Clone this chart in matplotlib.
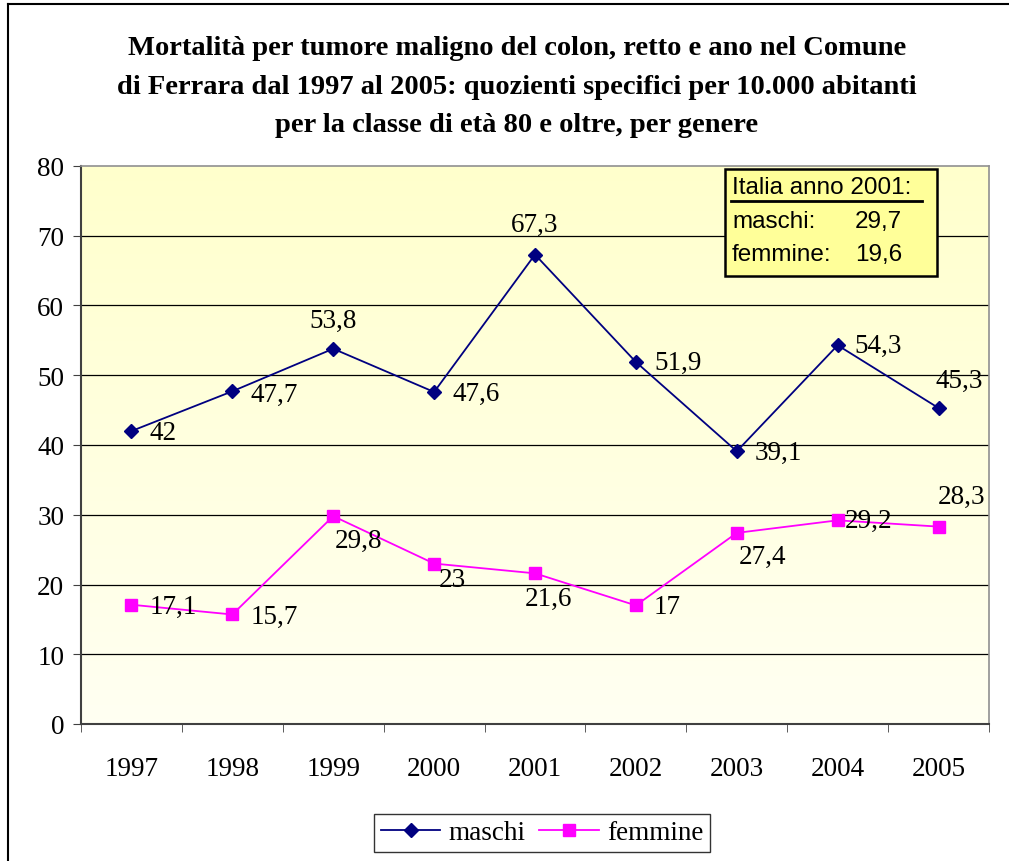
import numpy as np
import matplotlib
matplotlib.use("Agg")
import matplotlib.pyplot as plt
from matplotlib.patches import Rectangle
from matplotlib.lines import Line2D

W, H = 1009, 862

years = ["1997", "1998", "1999", "2000", "2001", "2002", "2003", "2004", "2005"]
maschi = [42, 47.7, 53.8, 47.6, 67.3, 51.9, 39.1, 54.3, 45.3]
femmine = [17.1, 15.7, 29.8, 23, 21.6, 17, 27.4, 29.2, 28.3]

title = ("Mortalità per tumore maligno del colon, retto e ano nel Comune\n"
         "di Ferrara dal 1997 al 2005: quozienti specifici per 10.000 abitanti\n"
         "per la classe di età 80 e oltre, per genere")
italia_title = "Italia anno 2001:"
italia_rows = [("maschi:", "29,7"), ("femmine:", "19,6")]

# label offsets in pixels (dx, dy, ha)
off_m = [(18, -1, "left"), (18, -3, "left"), (0, 28, "center"), (18, -1, "left"),
         (0, 30, "center"), (18, 0, "left"), (18, -1, "left"), (17, 0, "left"),
         (-3, 28, "left")]
off_f = [(18, -2, "left"), (18, -2, "left"), (25, -24, "center"), (18, -16, "center"),
         (13, -25, "center"), (18, -1, "left"), (26, -24, "center"), (7, 0, "left"),
         (-1, 30, "left")]

SERIF = ["Liberation Serif", "DejaVu Serif"]
SANS = ["Liberation Sans", "DejaVu Sans"]
NAVY = "#000080"
MAG = "#FF00FF"
FS = 19.5


def fx(px):
    return px / W


def fy(py):
    return 1 - py / H


def fmt(v):
    return f"{v:g}".replace(".", ",")


fig = plt.figure(figsize=(W / 100, H / 100), dpi=100)
fig.patch.set_facecolor("white")

# outer chart border (left and top visible)
fig.add_artist(Line2D([fx(8), fx(8)], [fy(5), 0], color="black", lw=1.5))
fig.add_artist(Line2D([fx(8), 1], [fy(5), fy(5)], color="black", lw=1.5))

fig.text(fx(517), fy(87), title, ha="center", va="center", fontsize=20.5,
         fontweight="bold", family=SERIF, linespacing=1.72)

ax = fig.add_axes([fx(81), fy(725), fx(989) - fx(81), fy(167) - fy(725)])
x = np.arange(len(years))
ax.set_xlim(-0.5, len(years) - 0.5)
ax.set_ylim(0, 80)

# yellow gradient background
grad = np.linspace(0, 1, 256).reshape(-1, 1)
top = np.array([1.0, 1.0, 0.80])
bot = np.array([1.0, 1.0, 0.95])
img = top + (bot - top) * grad[..., None]
ax.imshow(img, extent=[0, 1, 0, 1], transform=ax.transAxes, aspect="auto", zorder=0)

for yv in range(10, 80, 10):
    ax.axhline(yv, color="black", lw=0.9, zorder=1)

ax.plot(x, maschi, color=NAVY, lw=1.3, marker="D", ms=7.5, mfc=NAVY, mec=NAVY,
        label="maschi", zorder=3)
ax.plot(x, femmine, color=MAG, lw=1.3, marker="s", ms=8.5, mfc=MAG, mec=MAG,
        label="femmine", zorder=3)

for vals, offs in ((maschi, off_m), (femmine, off_f)):
    for xi, v, (dx, dy, ha) in zip(x, vals, offs):
        ax.annotate(fmt(v), (xi, v), xytext=(dx * 0.72, dy * 0.72),
                    textcoords="offset points", ha=ha, va="center",
                    fontsize=FS, family=SERIF, zorder=4)

ax.set_xticks(x)
ax.set_xticklabels(years, family=SERIF, fontsize=FS)
ax.set_xticks(np.arange(-0.5, len(years)), minor=True)
ax.tick_params(axis="x", which="major", length=0, pad=23)
ax.tick_params(axis="x", which="minor", length=6, direction="out", color="#404040")
ax.set_yticks(range(0, 81, 10))
ax.set_yticklabels([str(v) for v in range(0, 81, 10)], family=SERIF, fontsize=FS)
ax.tick_params(axis="y", length=6, direction="out", pad=6, color="#404040")

for s in ("left", "bottom"):
    ax.spines[s].set_color("#404040")
    ax.spines[s].set_linewidth(1.5)
for s in ("top", "right"):
    ax.spines[s].set_color("#909090")
    ax.spines[s].set_linewidth(1.2)

# Italia box
fig.add_artist(Rectangle((fx(725), fy(277)), fx(937) - fx(725), fy(170) - fy(277),
                         facecolor="#FFFF99", edgecolor="black", lw=1.8, zorder=5))
fig.text(fx(732), fy(188), italia_title, ha="left", va="center", fontsize=17.5,
         family=SANS, zorder=6)
fig.add_artist(Line2D([fx(731), fx(922)], [fy(202), fy(202)], color="black", lw=2, zorder=6))
for i, (lab, val) in enumerate(italia_rows):
    yy = fy(222 + i * 33)
    fig.text(fx(732), yy, lab, ha="left", va="center", fontsize=17.5, family=SANS, zorder=6)
    fig.text(fx(855), yy, val, ha="left", va="center", fontsize=17.5, family=SANS, zorder=6)

leg = fig.legend(loc="center", bbox_to_anchor=(fx(542), fy(834)), ncol=2,
                 prop={"family": SERIF, "size": FS}, frameon=True, fancybox=False,
                 edgecolor="black", handlelength=2.2, columnspacing=0.5,
                 handletextpad=0.3, borderpad=0.25, borderaxespad=0)
leg.get_frame().set_linewidth(1)

fig.savefig("out.png", dpi=100)
